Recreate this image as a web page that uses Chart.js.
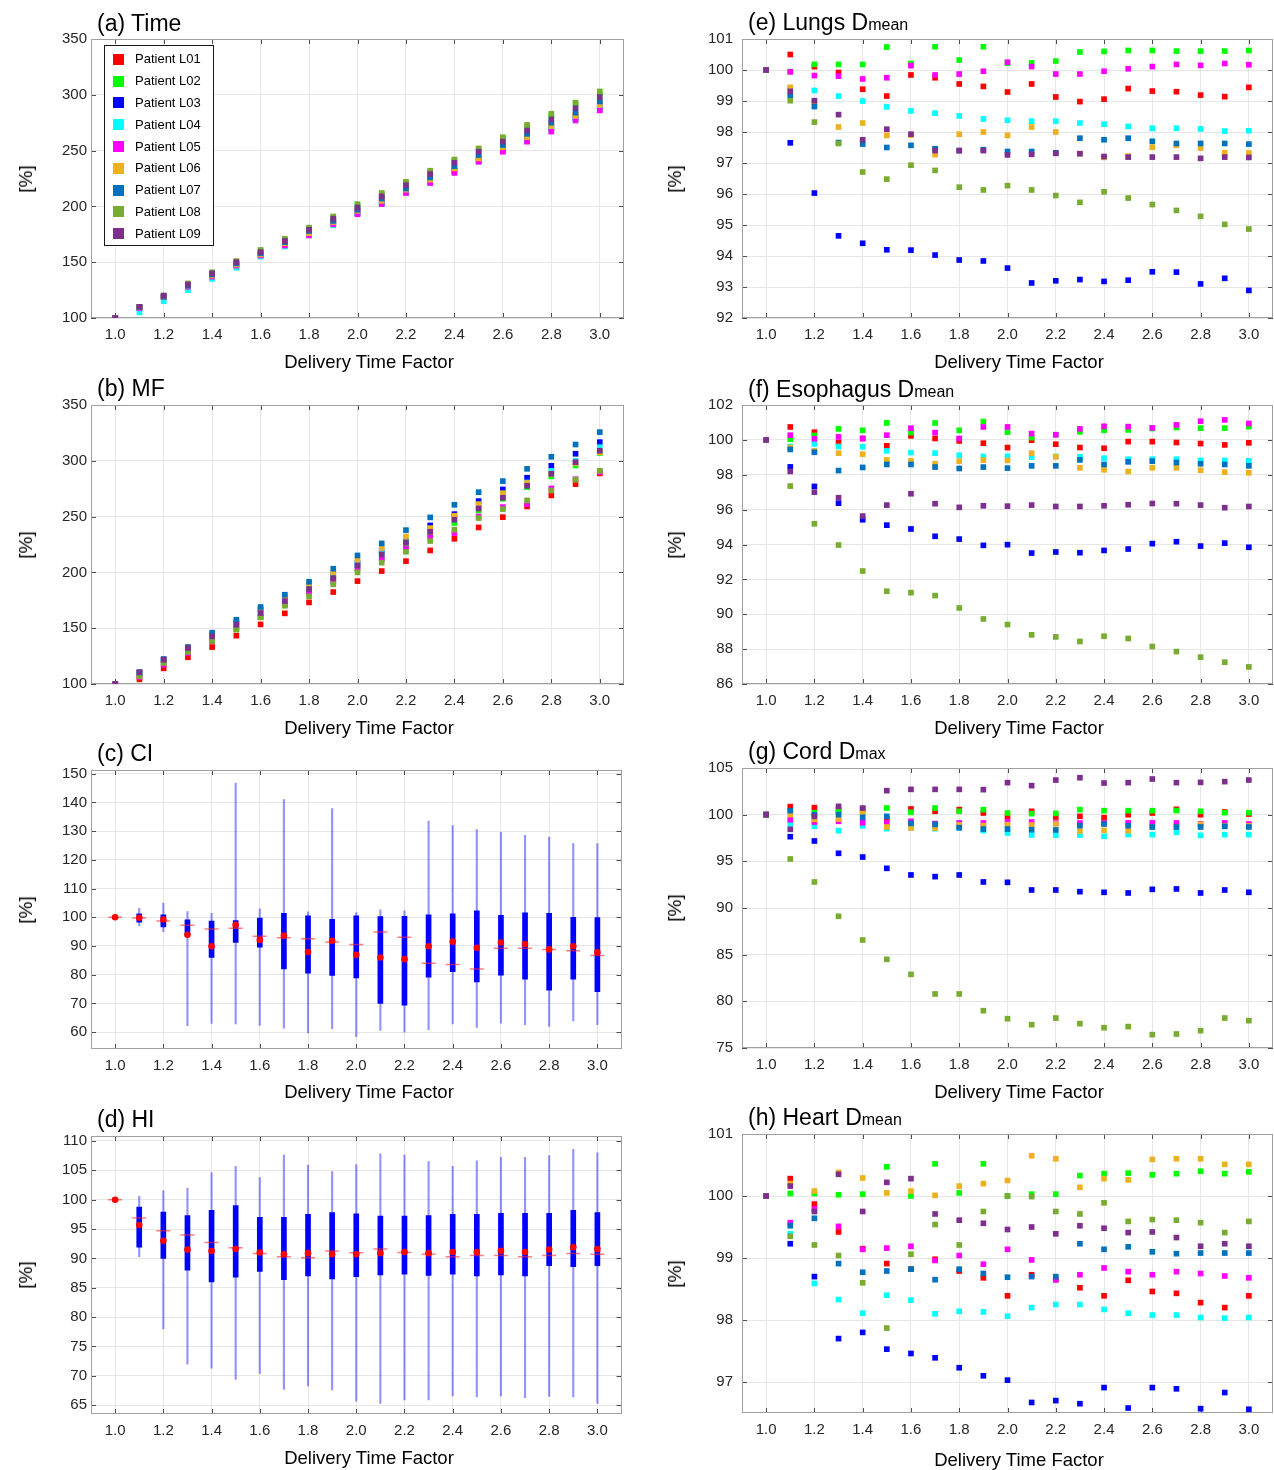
<!DOCTYPE html>
<html>
<head>
<meta charset="utf-8">
<script src="https://cdn.jsdelivr.net/npm/chart.js@4.4.1/dist/chart.umd.min.js"></script>
<style>
  body { margin: 0; background: #fff; }
  #page { position: relative; width: 1274px; height: 1470px; overflow: hidden; background: #fff;
          font-family: "Liberation Sans", Arial, Helvetica, sans-serif; color: #000; }
  canvas { position: absolute; }
  .ptitle { position: absolute; font-size: 23px; line-height: 26px; white-space: nowrap; }
  .ptitle span { font-size: 16px; }
  .ylab { position: absolute; font-size: 19px; white-space: nowrap; transform: translate(-50%, -50%) rotate(-90deg); }
  .xlab { position: absolute; font-size: 18.5px; line-height: 22px; white-space: nowrap; transform: translate(-50%, -50%); }
  #legend { position: absolute; left: 104px; top: 45px; width: 108px; height: 199px; border: 1px solid #1a1a1a; background: #fff; }
  .lg-item { position: absolute; left: 0; height: 16px; font-size: 13px; line-height: 16px; white-space: nowrap; }
  .lg-item i { position: absolute; left: 8px; top: 2.5px; width: 11px; height: 11px; }
  .lg-item b { position: absolute; left: 30px; top: 0; font-weight: normal; }
</style>
</head>
<body>
<div id="page"></div>
<script>
// x axis: delivery time factor
const xFactors = [1.0, 1.1, 1.2, 1.3, 1.4, 1.5, 1.6, 1.7, 1.8, 1.9, 2.0, 2.1, 2.2, 2.3, 2.4, 2.5, 2.6, 2.7, 2.8, 2.9, 3.0];
const xTicks = [1.0, 1.2, 1.4, 1.6, 1.8, 2.0, 2.2, 2.4, 2.6, 2.8, 3.0];

const patients = ['Patient L01', 'Patient L02', 'Patient L03', 'Patient L04', 'Patient L05', 'Patient L06', 'Patient L07', 'Patient L08', 'Patient L09'];
const patientColors = ['#FF0000', '#00FF00', '#0000FF', '#00FFFF', '#FF00FF', '#EDB120', '#0072BD', '#77AC30', '#7E2F8E'];

// (a) Time
const timeL01 = [100, 110, 119, 129, 138, 148, 158, 167, 177, 186, 196, 206, 215, 225, 234, 244, 254, 263, 273, 282, 292];
const timeL02 = [100, 110, 120, 130, 140, 150, 160, 170, 180, 190, 201, 211, 221, 231, 241, 251, 261, 271, 281, 291, 301];
const timeL03 = [100, 109, 119, 128, 138, 147, 156, 166, 175, 185, 194, 203, 213, 222, 232, 241, 250, 260, 269, 279, 288];
const timeL04 = [100, 105, 115, 125, 135, 145, 155, 164, 174, 183, 193, 202, 212, 221, 231, 240, 250, 259, 269, 278, 288];
const timeL05 = [100, 109, 119, 128, 137, 147, 156, 165, 174, 184, 193, 202, 212, 221, 230, 240, 249, 258, 267, 277, 286];
const timeL06 = [100, 110, 119, 129, 138, 148, 157, 167, 176, 186, 196, 205, 215, 224, 234, 243, 253, 262, 272, 281, 291];
const timeL07 = [100, 110, 119, 129, 139, 149, 158, 168, 178, 187, 197, 207, 216, 226, 236, 246, 255, 265, 275, 284, 294];
const timeL08 = [100, 110, 120, 131, 141, 151, 161, 171, 181, 191, 202, 212, 222, 232, 242, 252, 262, 273, 283, 293, 303];
const timeL09 = [100, 110, 120, 130, 140, 150, 159, 169, 179, 189, 199, 209, 219, 229, 239, 249, 258, 268, 278, 288, 298];

// (b) MF
const mfL01 = [100, 104.2, 114.0, 123.9, 133.1, 143.3, 153.4, 163.3, 173.1, 182.4, 192.2, 201.2, 210.1, 219.7, 230.1, 240.3, 249.5, 259.1, 269.0, 279.1, 288.7];
const mfL02 = [100, 107.5, 118.8, 130.1, 140.3, 151.0, 160.6, 171.0, 181.5, 191.9, 203.0, 212.8, 223.9, 233.7, 244.2, 255.5, 266.0, 276.4, 286.0, 295.8, 306.9];
const mfL03 = [100, 110.4, 121.8, 132.2, 144.2, 155.2, 166.6, 177.0, 187.5, 196.4, 208.4, 218.8, 227.8, 242.1, 252.2, 263.9, 274.3, 284.8, 295.5, 306.3, 316.7];
const mfL04 = [100, 109.9, 121.2, 132.2, 143.3, 154.6, 165.7, 176.1, 186.9, 197.6, 208.4, 218.2, 228.7, 238.8, 249.3, 259.7, 270.1, 280.6, 291.0, 300.0, 312.2];
const mfL05 = [100, 106.3, 117.3, 127.8, 138.2, 149.3, 160.0, 171.3, 182.1, 191.6, 203.3, 212.2, 221.5, 231.3, 235.2, 250.1, 258.5, 261.2, 275.2, 283.5, 290.0];
const mfL06 = [100, 110.4, 121.8, 133.1, 144.2, 155.2, 166.6, 178.5, 189.0, 200.0, 211.3, 221.8, 232.2, 239.7, 250.7, 261.2, 271.0, 280.0, 288.4, 297.9, 307.5];
const mfL07 = [100, 110.4, 122.4, 133.1, 146.0, 157.6, 169.0, 180.0, 191.6, 203.3, 215.2, 226.0, 237.9, 249.3, 260.6, 271.9, 281.8, 292.8, 303.6, 314.6, 325.7];
const mfL08 = [100, 106.9, 118.8, 128.7, 138.5, 148.7, 159.7, 170.1, 178.5, 189.3, 200.0, 208.7, 218.5, 228.1, 238.2, 248.7, 256.7, 264.5, 273.4, 283.0, 291.0];
const mfL09 = [100, 110.4, 121.8, 132.2, 142.7, 153.1, 163.6, 174.3, 185.1, 194.9, 206.3, 216.1, 226.9, 236.4, 247.2, 257.3, 266.9, 277.6, 288.4, 298.8, 309.0];

// (c) CI box plot
const ciWhiskerLow  = [100, 97.1, 95.0, 62.2, 63.0, 62.8, 62.3, 61.4, 59.7, 61.2, 58.4, 60.6, 60.0, 60.8, 62.8, 61.6, 63.1, 62.6, 62.0, 63.9, 62.6];
const ciWhiskerHigh = [100, 103.1, 104.9, 102.0, 101.4, 146.7, 102.9, 141.0, 101.9, 137.9, 101.6, 102.6, 102.2, 133.5, 131.9, 130.5, 129.6, 128.5, 127.9, 125.7, 125.7];
const ciQ1 = [100, 98.3, 96.6, 93.9, 86.0, 91.2, 89.6, 82.0, 80.5, 79.7, 78.9, 70.0, 69.4, 79.1, 81.0, 77.5, 79.8, 78.4, 74.6, 78.4, 74.1];
const ciQ3 = [100, 101.2, 100.8, 99.1, 98.7, 98.8, 99.7, 101.4, 100.5, 99.3, 100.5, 100.2, 100.3, 100.8, 101.2, 102.2, 100.7, 101.5, 101.4, 100.0, 99.9];
const ciMedian = [100, 99.8, 99.2, 93.9, 89.9, 97.4, 92.1, 93.6, 87.9, 91.8, 86.9, 86.0, 85.4, 89.9, 91.5, 89.4, 91.2, 90.7, 88.8, 89.9, 87.8];
const ciMean = [100, 99.7, 98.7, 97.2, 95.9, 96.2, 93.4, 92.9, 92.5, 91.4, 90.5, 94.9, 93.0, 84.0, 83.5, 82.0, 89.2, 89.2, 88.8, 88.3, 86.7];

// (d) HI box plot
const hiWhiskerLow  = [100, 90.3, 78.0, 72.0, 71.3, 69.4, 70.4, 67.7, 68.3, 67.6, 65.7, 65.3, 65.9, 65.9, 66.6, 66.4, 66.6, 66.3, 66.5, 66.4, 65.3];
const hiWhiskerHigh = [100, 100.6, 101.5, 102.0, 104.6, 105.7, 103.75, 107.6, 105.9, 104.8, 106.0, 107.8, 107.6, 106.5, 105.7, 106.6, 107.2, 107.2, 107.5, 108.6, 108.0];
const hiQ1 = [100, 91.9, 90.0, 88.0, 86.0, 86.8, 87.8, 86.4, 87.0, 86.5, 86.9, 87.2, 87.3, 87.1, 87.3, 87.0, 87.2, 87.0, 88.75, 88.6, 88.75];
const hiQ3 = [100, 98.75, 97.9, 97.3, 98.2, 99.0, 97.0, 97.0, 97.5, 97.8, 97.6, 97.2, 97.2, 97.3, 97.5, 97.5, 97.7, 97.7, 97.7, 98.2, 97.8];
const hiMedian = [100, 95.7, 93.0, 91.5, 91.25, 91.6, 91.0, 90.7, 90.9, 90.7, 90.7, 90.9, 91.1, 90.9, 91.1, 91.1, 91.3, 91.1, 91.5, 91.9, 91.6];
const hiMean = [100, 96.9, 94.7, 94.0, 92.7, 91.8, 90.85, 90.3, 90.1, 91.25, 90.97, 91.6, 91.0, 90.7, 90.3, 90.5, 90.5, 90.3, 90.5, 90.85, 90.7];

// (e) Lungs Dmean
const lungL01 = [100, 100.5, 100.11, 99.92, 99.38, 99.16, 99.84, 99.75, 99.55, 99.47, 99.29, 99.55, 99.13, 98.98, 99.06, 99.4, 99.32, 99.3, 99.19, 99.14, 99.44];
const lungL02 = [100, 99.95, 100.18, 100.18, 100.18, 100.74, 100.21, 100.75, 100.32, 100.75, 100.22, 100.23, 100.29, 100.58, 100.6, 100.63, 100.63, 100.61, 100.61, 100.61, 100.63];
const lungL03 = [100, 97.65, 96.03, 94.65, 94.41, 94.2, 94.19, 94.03, 93.87, 93.84, 93.61, 93.13, 93.2, 93.24, 93.18, 93.22, 93.49, 93.48, 93.1, 93.28, 92.89];
const lungL04 = [100, 99.41, 99.34, 99.16, 99.0, 98.81, 98.68, 98.61, 98.52, 98.42, 98.38, 98.35, 98.35, 98.29, 98.25, 98.18, 98.12, 98.12, 98.1, 98.03, 98.04];
const lungL05 = [100, 99.94, 99.82, 99.8, 99.71, 99.75, 100.14, 99.84, 99.87, 99.96, 100.25, 100.11, 99.87, 99.87, 99.96, 100.04, 100.11, 100.18, 100.15, 100.21, 100.17];
const lungL06 = [100, 99.44, 98.95, 98.16, 98.29, 97.89, 97.9, 97.27, 97.93, 98.0, 97.89, 98.16, 98.0, 97.3, 97.18, 97.22, 97.51, 97.57, 97.48, 97.33, 97.32];
const lungL07 = [100, 99.17, 98.82, 97.66, 97.61, 97.5, 97.57, 97.46, 97.4, 97.43, 97.37, 97.37, 97.33, 97.8, 97.75, 97.8, 97.7, 97.63, 97.63, 97.63, 97.61];
const lungL08 = [100, 99.01, 98.32, 97.63, 96.71, 96.48, 96.93, 96.76, 96.22, 96.13, 96.27, 96.13, 95.95, 95.73, 96.07, 95.87, 95.66, 95.47, 95.28, 95.02, 94.87];
const lungL09 = [100, 99.31, 99.01, 98.56, 97.75, 98.09, 97.93, 97.4, 97.4, 97.4, 97.26, 97.28, 97.31, 97.3, 97.21, 97.19, 97.19, 97.19, 97.15, 97.19, 97.18];

// (f) Esophagus Dmean
const esoL01 = [100, 100.74, 100.44, 99.85, 100.08, 99.66, 100.23, 100.08, 99.94, 99.81, 99.56, 99.98, 99.75, 99.56, 99.52, 99.9, 99.9, 99.85, 99.79, 99.71, 99.83];
const esoL02 = [100, 100.04, 100.25, 100.63, 100.55, 100.97, 100.42, 100.97, 100.55, 101.05, 100.44, 100.13, 100.3, 100.46, 100.55, 100.57, 100.65, 100.71, 100.67, 100.67, 100.76];
const esoL03 = [100, 98.45, 97.33, 96.37, 95.42, 95.11, 94.89, 94.47, 94.31, 93.95, 93.99, 93.51, 93.57, 93.53, 93.66, 93.74, 94.05, 94.16, 93.91, 94.08, 93.84];
const esoL04 = [100, 99.62, 99.77, 99.62, 99.6, 99.37, 99.27, 99.24, 99.12, 99.05, 99.06, 99.01, 99.05, 99.03, 98.95, 98.89, 98.89, 98.89, 98.82, 98.82, 98.8];
const esoL05 = [100, 100.27, 100.06, 100.17, 100.08, 100.27, 100.67, 100.42, 100.08, 100.74, 100.74, 100.36, 100.29, 100.63, 100.78, 100.76, 100.69, 100.86, 101.07, 101.15, 100.94];
const esoL06 = [100, 99.56, 99.37, 99.24, 99.18, 98.85, 98.8, 98.63, 98.78, 98.84, 98.82, 99.24, 99.03, 98.4, 98.28, 98.19, 98.4, 98.4, 98.26, 98.15, 98.11];
const esoL07 = [100, 99.45, 99.29, 98.24, 98.42, 98.59, 98.59, 98.44, 98.36, 98.44, 98.38, 98.51, 98.51, 98.85, 98.59, 98.74, 98.78, 98.7, 98.63, 98.59, 98.51];
const esoL08 = [100, 97.35, 95.19, 93.97, 92.48, 91.32, 91.24, 91.07, 90.36, 89.73, 89.41, 88.82, 88.7, 88.44, 88.74, 88.61, 88.15, 87.86, 87.54, 87.25, 86.98];
const esoL09 = [100, 98.19, 97.0, 96.68, 95.63, 96.26, 96.91, 96.34, 96.13, 96.22, 96.2, 96.26, 96.18, 96.18, 96.22, 96.28, 96.35, 96.34, 96.26, 96.11, 96.18];

// (g) Cord Dmax
const cordL01 = [100, 100.86, 100.75, 100.54, 100.6, 99.54, 100.61, 100.36, 100.54, 100.18, 99.82, 100.36, 99.75, 99.82, 99.68, 100.0, 100.18, 100.57, 100.0, 100.29, 100.07];
const cordL02 = [100, 100.4, 100.2, 100.3, 100.3, 100.71, 100.25, 100.71, 100.36, 100.54, 100.18, 100.11, 100.14, 100.54, 100.43, 100.43, 100.43, 100.43, 100.36, 100.21, 100.21];
const cordL03 = [100, 97.64, 97.18, 95.86, 95.46, 94.25, 93.54, 93.36, 93.54, 92.79, 92.75, 91.93, 91.93, 91.75, 91.68, 91.61, 92.0, 92.04, 91.61, 91.93, 91.68];
const cordL04 = [100, 99.0, 98.75, 98.29, 98.8, 98.5, 98.6, 98.5, 98.57, 98.29, 98.04, 97.82, 97.79, 97.82, 97.68, 97.89, 97.86, 98.11, 97.79, 97.86, 97.86];
const cordL05 = [100, 99.46, 99.21, 99.29, 99.14, 99.11, 99.29, 99.04, 99.11, 99.11, 99.25, 99.21, 99.1, 99.1, 99.11, 99.11, 99.11, 99.11, 99.0, 99.11, 99.0];
const cordL06 = [100, 100.0, 99.5, 99.54, 100.21, 98.68, 98.57, 98.57, 98.9, 98.82, 98.93, 98.89, 99.0, 98.25, 98.32, 98.29, 98.7, 98.7, 98.96, 98.8, 98.8];
const cordL07 = [100, 100.43, 100.0, 100.0, 99.71, 99.82, 99.07, 98.96, 98.61, 98.46, 98.46, 98.39, 98.36, 98.82, 99.0, 98.82, 98.68, 98.68, 98.68, 98.75, 98.68];
const cordL08 = [100, 95.25, 92.79, 89.11, 86.57, 84.5, 82.89, 80.79, 80.79, 79.0, 78.14, 77.5, 78.21, 77.61, 77.18, 77.29, 76.43, 76.5, 76.86, 78.21, 77.93];
const cordL09 = [100, 98.43, 99.82, 100.89, 100.71, 102.57, 102.71, 102.71, 102.71, 102.68, 103.43, 103.11, 103.71, 103.96, 103.39, 103.43, 103.82, 103.43, 103.46, 103.54, 103.71];

// (h) Heart Dmean
const heartL01 = [100, 100.28, 99.87, 99.42, 99.15, 98.91, 98.82, 98.98, 98.79, 98.68, 98.39, 98.73, 98.65, 98.52, 98.39, 98.64, 98.46, 98.43, 98.28, 98.2, 98.39];
const heartL02 = [100, 100.04, 100.04, 100.02, 100.03, 100.47, 100.0, 100.52, 100.05, 100.52, 100.0, 100.03, 100.03, 100.33, 100.36, 100.37, 100.34, 100.36, 100.4, 100.36, 100.39];
const heartL03 = [100, 99.23, 98.7, 97.7, 97.8, 97.53, 97.46, 97.39, 97.23, 97.1, 97.03, 96.67, 96.7, 96.65, 96.91, 96.58, 96.91, 96.89, 96.57, 96.83, 96.56];
const heartL04 = [100, 99.39, 98.59, 98.33, 98.11, 98.4, 98.32, 98.1, 98.14, 98.13, 98.06, 98.2, 98.25, 98.25, 98.17, 98.11, 98.08, 98.08, 98.04, 98.03, 98.04];
const heartL05 = [100, 99.57, 99.79, 99.51, 99.14, 99.16, 99.19, 98.96, 99.04, 98.9, 99.14, 98.97, 98.65, 98.73, 98.84, 98.78, 98.73, 98.78, 98.75, 98.71, 98.68];
const heartL06 = [100, 100.2, 100.08, 100.38, 100.29, 100.05, 100.08, 100.01, 100.16, 100.2, 100.25, 100.65, 100.6, 100.14, 100.28, 100.26, 100.59, 100.6, 100.6, 100.51, 100.51];
const heartL07 = [100, 99.52, 99.64, 98.91, 98.77, 98.79, 98.82, 98.65, 98.82, 98.75, 98.69, 98.7, 98.7, 99.23, 99.14, 99.18, 99.1, 99.07, 99.08, 99.08, 99.08];
const heartL08 = [100, 99.35, 99.21, 99.04, 98.6, 97.87, 99.06, 99.54, 99.21, 99.75, 100.0, 99.99, 99.75, 99.71, 99.89, 99.59, 99.62, 99.61, 99.57, 99.41, 99.59];
const heartL09 = [100, 100.16, 99.75, 100.35, 99.75, 100.22, 100.28, 99.71, 99.61, 99.56, 99.46, 99.5, 99.39, 99.52, 99.48, 99.41, 99.42, 99.33, 99.19, 99.23, 99.19];

// y tick labels per panel
const yTicksTime = [100, 150, 200, 250, 300, 350];
const yTicksMF = [100, 150, 200, 250, 300, 350];
const yTicksCI = [60, 70, 80, 90, 100, 110, 120, 130, 140, 150];
const yTicksHI = [65, 70, 75, 80, 85, 90, 95, 100, 105, 110];
const yTicksLung = [92, 93, 94, 95, 96, 97, 98, 99, 100, 101];
const yTicksEso = [86, 88, 90, 92, 94, 96, 98, 100, 102];
const yTicksCord = [75, 80, 85, 90, 95, 100, 105];
const yTicksHeart = [97, 98, 99, 100, 101];

const page = document.getElementById('page');
Chart.defaults.font.family = "'Liberation Sans', Arial, Helvetica, sans-serif";
Chart.defaults.color = '#262626';

const toPoints = (vals) => xFactors.map((x, i) => ({ x: x, y: vals[i] }));
const toRanges = (lo, hi) => xFactors.map((x, i) => ({ x: x, y: [lo[i], hi[i]] }));

function patientSets(series) {
  return series.map((vals, i) => ({
    label: patients[i],
    data: toPoints(vals),
    pointStyle: 'rect',
    pointRadius: 4,
    backgroundColor: patientColors[i],
    borderWidth: 0,
    order: series.length - 1 - i   // L09 drawn on top
  }));
}

function boxSets(wLo, wHi, q1, q3, med, mean) {
  return [
    { type: 'scatter', data: toPoints(med), pointStyle: 'circle', pointRadius: 3.3,
      backgroundColor: '#ff0000', borderWidth: 0, order: 0 },
    { type: 'scatter', data: toPoints(mean), pointStyle: 'line', pointRadius: 7,
      borderColor: 'rgba(255,40,40,0.6)', borderWidth: 1.5, order: 1 },
    { type: 'bar', data: toRanges(q1, q3), backgroundColor: '#0000ff', borderWidth: 0,
      barThickness: 5, stack: 'bp', order: 2 },
    { type: 'bar', data: toRanges(wLo, wHi), backgroundColor: 'rgba(0,0,255,0.42)', borderWidth: 0,
      barThickness: 1.5, stack: 'bp', order: 3 }
  ];
}

// box with inward tick marks, like the matlab axes
const matlabFrame = {
  id: 'matlabFrame',
  beforeDatasetsDraw(chart) {
    const { ctx, chartArea: a, scales: { x, y } } = chart;
    ctx.save();
    ctx.lineWidth = 1;
    ctx.strokeStyle = '#4d4d4d';
    ctx.beginPath();
    x.ticks.forEach((t) => {
      const px = Math.round(x.getPixelForValue(t.value)) + 0.5;
      ctx.moveTo(px, a.bottom); ctx.lineTo(px, a.bottom - 5);
      ctx.moveTo(px, a.top); ctx.lineTo(px, a.top + 5);
    });
    y.ticks.forEach((t) => {
      const py = Math.round(y.getPixelForValue(t.value)) + 0.5;
      ctx.moveTo(a.left, py); ctx.lineTo(a.left + 5, py);
      ctx.moveTo(a.right, py); ctx.lineTo(a.right - 5, py);
    });
    ctx.stroke();
    ctx.strokeStyle = '#a0a0a0';
    ctx.strokeRect(Math.round(a.left) + 0.5, Math.round(a.top) + 0.5,
      Math.round(a.right - a.left) - 1, Math.round(a.bottom - a.top) - 1);
    ctx.restore();
  }
};

const panels = [
  { side: 'L', top: 39, bottom: 318, titleY: 23, xTitleY: 362, title: '(a) Time', yMin: 100, yMax: 350, yTicks: yTicksTime,
    datasets: patientSets([timeL01, timeL02, timeL03, timeL04, timeL05, timeL06, timeL07, timeL08, timeL09]) },
  { side: 'L', top: 405, bottom: 684, titleY: 388, xTitleY: 728, title: '(b) MF', yMin: 100, yMax: 350, yTicks: yTicksMF,
    datasets: patientSets([mfL01, mfL02, mfL03, mfL04, mfL05, mfL06, mfL07, mfL08, mfL09]) },
  { side: 'L', top: 770, bottom: 1049, titleY: 753, xTitleY: 1092, title: '(c) CI', yMin: 54.1, yMax: 151.3, yTicks: yTicksCI,
    datasets: boxSets(ciWhiskerLow, ciWhiskerHigh, ciQ1, ciQ3, ciMedian, ciMean) },
  { side: 'L', top: 1136, bottom: 1414, titleY: 1119, xTitleY: 1458, title: '(d) HI', yMin: 63.5, yMax: 110.85, yTicks: yTicksHI,
    datasets: boxSets(hiWhiskerLow, hiWhiskerHigh, hiQ1, hiQ3, hiMedian, hiMean) },
  { side: 'R', top: 39, bottom: 318, titleY: 22, xTitleY: 362, title: '(e) Lungs D<span>mean</span>', yMin: 92, yMax: 101, yTicks: yTicksLung,
    datasets: patientSets([lungL01, lungL02, lungL03, lungL04, lungL05, lungL06, lungL07, lungL08, lungL09]) },
  { side: 'R', top: 405, bottom: 684, titleY: 389, xTitleY: 728, title: '(f) Esophagus D<span>mean</span>', yMin: 86, yMax: 102, yTicks: yTicksEso,
    datasets: patientSets([esoL01, esoL02, esoL03, esoL04, esoL05, esoL06, esoL07, esoL08, esoL09]) },
  { side: 'R', top: 768, bottom: 1048, titleY: 751, xTitleY: 1092, title: '(g) Cord D<span>max</span>', yMin: 75, yMax: 105, yTicks: yTicksCord,
    datasets: patientSets([cordL01, cordL02, cordL03, cordL04, cordL05, cordL06, cordL07, cordL08, cordL09]) },
  { side: 'R', top: 1134, bottom: 1413, titleY: 1117, xTitleY: 1460, title: '(h) Heart D<span>mean</span>', yMin: 96.5, yMax: 101, yTicks: yTicksHeart,
    datasets: patientSets([heartL01, heartL02, heartL03, heartL04, heartL05, heartL06, heartL07, heartL08, heartL09]) }
];

panels.forEach((p) => {
  const left = p.side === 'L';
  // plot area: 91..624 on the left, 742..1273 on the right
  const canvasLeft = left ? 0 : 649;
  const yWidth = left ? 91 : 93;
  const canvas = document.createElement('canvas');
  canvas.width = 630;
  canvas.height = 20 + (p.bottom - p.top) + 56;
  canvas.style.left = canvasLeft + 'px';
  canvas.style.top = (p.top - 20) + 'px';
  page.appendChild(canvas);

  new Chart(canvas, {
    type: 'scatter',
    data: { datasets: p.datasets },
    options: {
      responsive: false,
      animation: false,
      events: [],
      devicePixelRatio: 1,
      layout: { padding: { top: 20, right: 6, bottom: 0, left: 0 } },
      plugins: { legend: { display: false }, tooltip: { enabled: false } },
      scales: {
        x: {
          type: 'linear', min: 0.9, max: 3.1, bounds: 'data', offset: false,
          afterBuildTicks: (s) => { s.ticks = xTicks.map((v) => ({ value: v })); },
          afterFit: (s) => { s.height = 56; },
          grid: { color: '#e6e6e6', drawTicks: false, offset: false },
          border: { display: false },
          ticks: { padding: 8, font: { size: 15 }, autoSkip: false, maxRotation: 0,
                   callback: (v) => Number(v).toFixed(1) }
        },
        y: {
          type: 'linear', min: p.yMin, max: p.yMax, bounds: 'data', stacked: false, beginAtZero: false,
          afterBuildTicks: (s) => { s.ticks = p.yTicks.map((v) => ({ value: v })); },
          afterFit: (s) => { s.width = yWidth; },
          grid: { color: '#e6e6e6', drawTicks: false },
          border: { display: false },
          ticks: { padding: left ? 4 : 9, font: { size: 15 }, autoSkip: false,
                   callback: (v) => String(v) }
        }
      }
    },
    plugins: [matlabFrame]
  });

  const plotLeft = left ? 91 : 742;
  const plotRight = left ? 624 : 1273;

  const t = document.createElement('div');
  t.className = 'ptitle';
  t.innerHTML = p.title;
  t.style.left = (plotLeft + 6) + 'px';
  t.style.top = (p.titleY - 13) + 'px';
  page.appendChild(t);

  const xl = document.createElement('div');
  xl.className = 'xlab';
  xl.textContent = 'Delivery Time Factor';
  xl.style.left = ((plotLeft + plotRight) / 2 + 11.5) + 'px';
  xl.style.top = p.xTitleY + 'px';
  page.appendChild(xl);

  const yl = document.createElement('div');
  yl.className = 'ylab';
  yl.textContent = '[%]';
  yl.style.left = (left ? 26 : 675) + 'px';
  yl.style.top = ((p.top + p.bottom) / 2) + 'px';
  page.appendChild(yl);
});

// legend of panel (a)
const legend = document.createElement('div');
legend.id = 'legend';
patients.forEach((name, i) => {
  const row = document.createElement('div');
  row.className = 'lg-item';
  row.style.top = (5.3 + 21.8 * i) + 'px';
  row.innerHTML = '<i style="background:' + patientColors[i] + '"></i><b>' + name + '</b>';
  legend.appendChild(row);
});
page.appendChild(legend);
</script>
</body>
</html>
